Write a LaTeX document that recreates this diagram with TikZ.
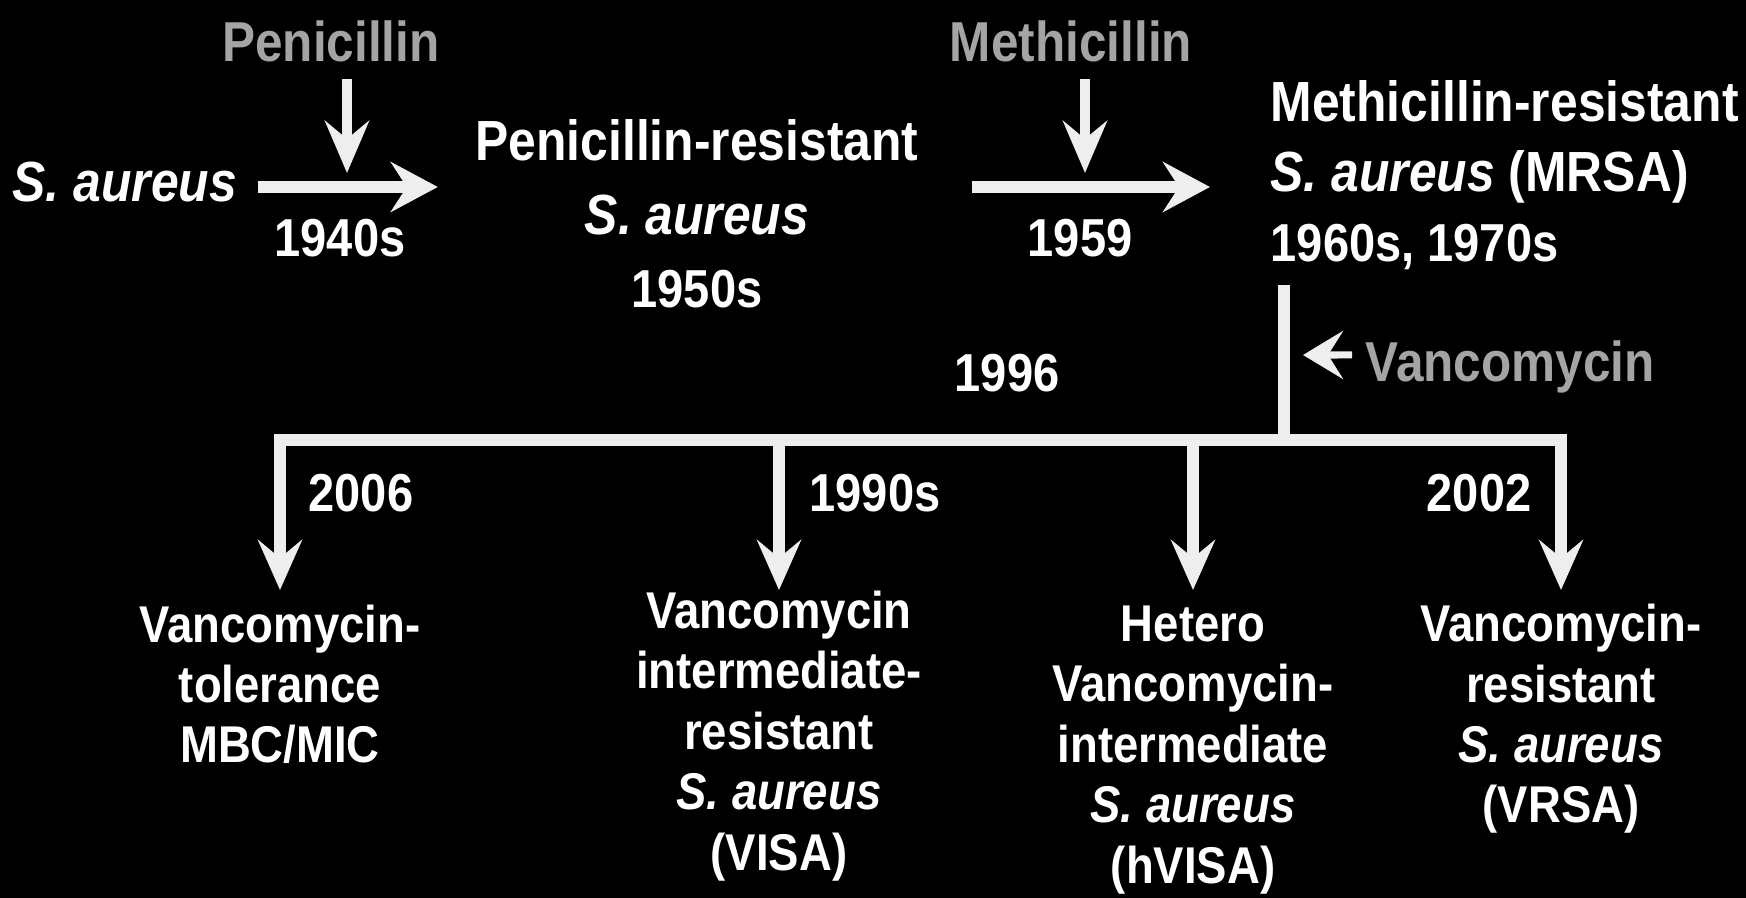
\documentclass[tikz,border=0pt]{standalone}
\usepackage{fontspec}
\setmainfont{Liberation Sans}[FakeStretch=0.88]
\usetikzlibrary{arrows.meta}
\definecolor{drugGrey}{HTML}{A4A4A4}
\definecolor{lineWhite}{HTML}{EEEEEE}

\begin{document}
\begin{tikzpicture}[x=0.01cm, y=-0.01cm,
    lbl/.style={text=white, inner sep=0pt, align=center, font=\bfseries\fontsize{16.1}{21}\selectfont},
    drug/.style={text=drugGrey, inner sep=0pt, font=\bfseries\fontsize{16}{19}\selectfont},
    yr/.style={text=white, inner sep=0pt, font=\bfseries\fontsize{15.2}{17}\selectfont},
    res/.style={text=white, inner sep=0pt, align=center, font=\bfseries\fontsize{14.7}{17.2}\selectfont},
    mainarrow/.style={draw=lineWhite, line width=3.6pt, -{Stealth[length=4.7mm, width=5mm, inset=1.6mm]}},
    droparrow/.style={draw=lineWhite, line width=2.8pt, -{Stealth[length=5.2mm, width=4.4mm, inset=1.8mm]}},
    branch/.style={draw=lineWhite, line width=3.2pt},
    branchdrop/.style={branch, -{Stealth[length=5mm, width=4.4mm, inset=1.8mm]}},
    smallarrow/.style={draw=lineWhite, line width=2pt, -{Stealth[length=4mm, width=4.8mm, inset=1.5mm]}},
  ]
  \fill[black] (0,0) rectangle (1746,898);

  % top row (multi-line nodes sit on the baseline of their last line)
  \node[lbl, anchor=base west] (sa) at (12,202) {\textit{S. aureus}};
  \node[drug, anchor=base] (pen) at (331,62) {Penicillin};
  \node[yr, anchor=base] (y1940) at (340,257) {1940s};
  \node[lbl, anchor=base] (prsa) at (697,308)
    {Penicillin-resistant\\\textit{S. aureus}\\{\fontsize{15.2}{21}\selectfont 1950s}};
  \node[drug, anchor=base] (meth) at (1071,62) {Methicillin};
  \node[yr, anchor=base] (y1959) at (1080,257) {1959};
  \node[lbl, anchor=base west, align=left, font=\bfseries\fontsize{16.1}{20}\selectfont] (mrsa) at (1270,262)
    {Methicillin-resistant\\\textit{S. aureus} (MRSA)\\{\fontsize{15.2}{20}\selectfont 1960s, 1970s}};

  \coordinate (j1) at (347,187);
  \coordinate (j2) at (1085,187);

  \draw[mainarrow, shorten <=0.2cm, shorten >=0.37cm] (sa.east |- j1) -- (prsa.west |- j1);
  \draw[mainarrow, shorten <=0.53cm, shorten >=0.6cm] (prsa.east |- j2) -- (mrsa.west |- j2);
  \draw[droparrow, shorten <=0.16cm, shorten >=0.14cm] (pen.south -| j1) -- (j1);
  \draw[droparrow, shorten <=0.16cm, shorten >=0.14cm] (meth.south -| j2) -- (j2);

  % vancomycin branch
  \coordinate (hub) at (1284,440);
  \coordinate (vtip) at (1303,355);
  \coordinate (tips) at (0,590);
  \node[drug, anchor=base west] (vanc) at (1365,382) {Vancomycin};
  \node[yr, anchor=base] (y1996) at (1007,392) {1996};
  \draw[branch, shorten <=0.14cm] (mrsa.south -| hub) -- (hub);
  \draw[smallarrow, shorten <=0.13cm] ([yshift=0.27cm]vanc.base west) -- (vtip);

  \node[res, anchor=base] (tol) at (280,763) {Vancomycin-\\tolerance\\MBC/MIC};
  \node[res, anchor=base] (visa) at (779,870)
    {Vancomycin\\intermediate-\\resistant\\\textit{S. aureus}\\(VISA)};
  \node[res, anchor=base] (hvisa) at (1193,883)
    {Hetero\\Vancomycin-\\intermediate\\\textit{S. aureus}\\(hVISA)};
  \node[res, anchor=base] (vrsa) at (1561,823)
    {Vancomycin-\\resistant\\\textit{S. aureus}\\(VRSA)};

  \node[yr, anchor=base] (y2006) at (361,512) {2006};
  \node[yr, anchor=base] (y1990) at (875,512) {1990s};
  \node[yr, anchor=base] (y2002) at (1479,512) {2002};

  \draw[branchdrop] (hub) -| (tol.north |- tips);
  \draw[branchdrop] (hub) -| (vrsa.north |- tips);
  \foreach \n in {visa,hvisa}
    \draw[branchdrop] (\n.north |- hub) -- (\n.north |- tips);
\end{tikzpicture}
\end{document}
